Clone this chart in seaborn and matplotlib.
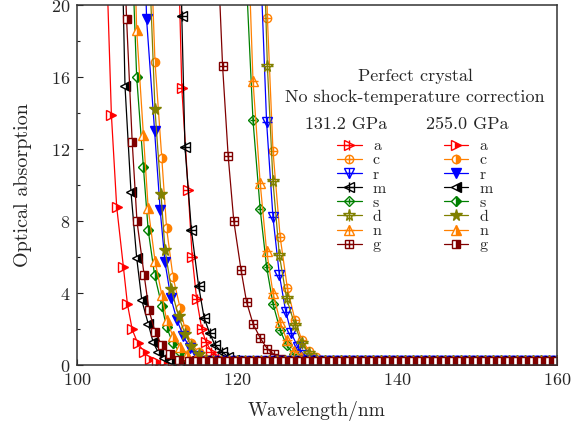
import matplotlib
matplotlib.use("Agg")
import matplotlib.pyplot as plt
from matplotlib.lines import Line2D
from matplotlib.legend_handler import HandlerTuple
from matplotlib.ticker import MultipleLocator
import seaborn as sns

# series keys, in legend order
keys = ["a", "c", "r", "m", "s", "d", "n", "g"]
colors = ["#ff0000", "#ff8000", "#0000ff", "#000000", "#008000", "#808000", "#ff8000", "#800000"]
markers = [">", "o", "v", "<", "D", "*", "^", "s"]

# 131.2 GPa (wavelength in nm, optical absorption)
wl_131 = {
    "a": [112.5, 113.1, 113.9, 114.4, 114.96, 115.6, 116.1, 116.8, 117.6, 118.4],
    "c": [123.5, 123.8, 124.5, 125.4, 126.3, 127.25, 128.1, 129.0, 129.9, 130.8],
    "r": [122.8, 123.7, 124.5, 125.3, 126.1, 126.8, 127.6, 128.4, 129.2],
    "m": [112.9, 113.1, 113.5, 114.3, 115.2, 115.9, 116.6, 117.25, 118.1, 118.9, 119.6],
    "s": [120.9, 122.0, 122.9, 123.7, 124.5, 125.4, 126.2, 127.1, 128.0],
    "d": [123.3, 123.8, 124.5, 125.3, 126.2, 127.25, 128.1, 129.0, 129.9],
    "n": [121.2, 122.0, 122.9, 123.7, 124.5, 125.4, 126.2, 127.1, 128.0, 128.9],
    "g": [117.3, 118.2, 118.9, 119.6, 120.5, 121.2, 122.0, 122.9, 123.8, 124.6, 125.5, 126.4],
}
ab_131 = {
    "a": [26, 15.4, 9.7, 6.0, 3.65, 2.0, 1.3, 0.75, 0.4, 0.2],
    "c": [25, 19.3, 11.9, 7.1, 4.26, 2.5, 1.4, 0.8, 0.45, 0.25],
    "r": [24, 13.5, 8.2, 5.0, 2.96, 1.76, 1.0, 0.55, 0.3],
    "m": [26, 19.4, 12.1, 7.5, 4.4, 2.6, 1.76, 1.1, 0.74, 0.46, 0.3],
    "s": [24, 13.6, 8.65, 5.46, 3.4, 1.94, 1.1, 0.6, 0.3],
    "d": [24, 16.6, 10.2, 6.1, 3.7, 2.2, 1.2, 0.65, 0.35],
    "n": [26, 15.8, 10.1, 6.35, 4.0, 2.4, 1.4, 0.8, 0.45, 0.25],
    "g": [26, 16.6, 11.6, 8.0, 5.3, 3.5, 2.3, 1.5, 0.9, 0.6, 0.35, 0.2],
}

# 255.0 GPa
wl_255 = {
    "a": [103.3, 104.3, 104.96, 105.8, 106.3, 106.9, 107.6, 108.4, 109.1, 110.0],
    "c": [109.0, 109.75, 110.6, 111.2, 112.0, 112.9, 113.5, 114.3, 115.2, 116.1],
    "r": [108.3, 108.7, 109.7, 110.4, 111.0, 111.75, 112.5, 113.3, 114.1, 115.0],
    "m": [105.4, 106.0, 106.75, 107.46, 108.1, 108.9, 109.5, 110.1, 110.9, 111.8],
    "s": [106.8, 107.46, 108.3, 108.9, 109.7, 110.6, 111.2, 112.0, 112.9, 113.8],
    "d": [108.9, 109.75, 110.5, 111.0, 111.8, 112.7, 113.5, 114.3, 115.2, 116.1],
    "n": [107.0, 107.46, 108.3, 108.9, 109.75, 110.6, 111.2, 112.0, 112.9, 113.8, 114.7],
    "g": [105.5, 106.2, 106.9, 107.5, 108.4, 109.0, 109.75, 110.6, 111.6, 112.7],
}
ab_255 = {
    "a": [28, 13.9, 8.8, 5.45, 3.4, 1.98, 1.2, 0.74, 0.35, 0.15],
    "c": [26, 16.85, 11.5, 7.6, 4.9, 3.15, 2.0, 1.2, 0.7, 0.35],
    "r": [26, 19.2, 13.0, 8.6, 5.7, 3.7, 2.5, 1.6, 0.95, 0.5],
    "m": [28, 15.5, 9.6, 5.96, 3.6, 2.3, 1.3, 0.74, 0.4, 0.2],
    "s": [24, 16.0, 11.0, 7.5, 5.0, 3.3, 2.1, 1.2, 0.7, 0.35],
    "d": [24, 14.2, 9.5, 6.4, 4.2, 2.7, 1.75, 1.05, 0.6, 0.3],
    "n": [26, 18.6, 12.8, 8.7, 5.8, 3.9, 2.5, 1.6, 1.0, 0.55, 0.3],
    "g": [28, 19.2, 12.4, 7.98, 4.98, 3.05, 1.85, 1.1, 0.6, 0.28],
}

# flat tail near zero, shared by all curves
tail_wl = [106, 107, 108, 109, 110, 111, 112, 113, 114, 115, 116, 117, 118, 119,
           120, 121, 122, 123, 124, 125, 126, 127, 128, 129, 130, 131, 132, 133,
           134, 135, 136, 137, 138, 139, 140, 141, 142, 143, 144, 145, 146, 147,
           148, 149, 150, 151, 152, 153, 154, 155, 156, 157, 158, 159, 160]
tail_ab = [0.2, 0.2, 0.2, 0.2, 0.2, 0.2, 0.2, 0.2, 0.2, 0.2, 0.2, 0.2, 0.2, 0.2,
           0.2, 0.2, 0.2, 0.2, 0.2, 0.2, 0.2, 0.2, 0.2, 0.2, 0.2, 0.2, 0.2, 0.2,
           0.2, 0.2, 0.2, 0.2, 0.2, 0.2, 0.2, 0.2, 0.2, 0.2, 0.2, 0.2, 0.2, 0.2,
           0.2, 0.2, 0.2, 0.2, 0.2, 0.2, 0.2, 0.2, 0.2, 0.2, 0.2, 0.2, 0.2]

sns.set_theme(style="ticks")
plt.rcParams["font.family"] = "cmr10"
plt.rcParams["mathtext.fontset"] = "cm"
plt.rcParams["axes.formatter.use_mathtext"] = True
plt.rcParams["font.size"] = 13

fig, ax = plt.subplots(figsize=(5.82, 4.23), dpi=100)
fig.subplots_adjust(left=0.1323, right=0.957, bottom=0.137, top=0.988)


def with_tail(xs, ys):
    x = list(xs)
    y = list(ys)
    for t, v in zip(tail_wl, tail_ab):
        if t > xs[-1] + 0.6:
            x.append(t)
            y.append(v)
    return x, y


ms = {">": 6.5, "o": 6, "v": 6.5, "<": 6.5, "D": 5, "*": 8.5, "^": 6.5, "s": 5.5}

# 131.2 GPa: open markers with a cross inside
h131 = []
for k, c, m in zip(keys, colors, markers):
    x, y = with_tail(wl_131[k], ab_131[k])
    sns.lineplot(x=x, y=y, ax=ax, sort=False, color=c, lw=0.9, marker=m,
                 markersize=ms[m], markerfacecolor="none", markeredgecolor=c,
                 markeredgewidth=1.0)
    sns.lineplot(x=x, y=y, ax=ax, sort=False, color=c, linestyle="none", marker="+",
                 markersize=ms[m], markeredgecolor=c, markeredgewidth=1.0)
    h131.append((Line2D([], [], color=c, lw=0.9, marker=m, markersize=ms[m],
                        markerfacecolor="none", markeredgecolor=c, markeredgewidth=1.0),
                 Line2D([], [], color=c, ls="none", marker="+", markersize=ms[m],
                        markeredgecolor=c, markeredgewidth=1.0)))

# 255.0 GPa: half-filled markers
h255 = []
for k, c, m in zip(keys, colors, markers):
    x, y = with_tail(wl_255[k], ab_255[k])
    fs = "full" if k in ("r", "d") else "right"
    style = dict(color=c, lw=0.9, marker=m, markersize=ms[m], fillstyle=fs,
                 markerfacecolor=c, markerfacecoloralt="white",
                 markeredgecolor=c, markeredgewidth=1.0)
    sns.lineplot(x=x, y=y, ax=ax, sort=False, **style)
    h255.append(Line2D([], [], **style))

ax.set_xlim(100, 160)
ax.set_ylim(0, 20)
ax.xaxis.set_major_locator(MultipleLocator(20))
ax.xaxis.set_minor_locator(MultipleLocator(10))
ax.yaxis.set_major_locator(MultipleLocator(4))
ax.yaxis.set_minor_locator(MultipleLocator(2))
ax.tick_params(which="both", direction="in", labelsize=13, width=0.8, color="#222222")
ax.tick_params(which="major", length=4, pad=5)
ax.tick_params(which="minor", length=2.5)
for sp in ax.spines.values():
    sp.set_visible(True)
    sp.set_linewidth(1.1)
    sp.set_color("#333333")
ax.set_xlabel("Wavelength/nm", fontsize=14)
ax.set_ylabel("Optical absorption", fontsize=14.5)
ax.xaxis.set_label_coords(0.5, -0.1)
ax.yaxis.set_label_coords(-0.094, 0.5)

fig.text(415 / 582, 1 - 76 / 423, "Perfect crystal", ha="center", va="center", fontsize=13)
fig.text(415 / 582, 1 - 97 / 423, "No shock-temperature correction", ha="center", va="center", fontsize=13)
fig.text(346 / 582, 1 - 124 / 423, "131.2 GPa", ha="center", va="center", fontsize=13)
fig.text(467 / 582, 1 - 124 / 423, "255.0 GPa", ha="center", va="center", fontsize=13)

leg = ax.legend(h131 + h255, keys + keys, ncol=2, loc="upper left",
                bbox_to_anchor=(337 / 582, 1 - 139 / 423), bbox_transform=fig.transFigure,
                frameon=False, fontsize=11.5, handlelength=1.55, handletextpad=0.7,
                labelspacing=0.0, columnspacing=3.6, borderpad=0, borderaxespad=0,
                handler_map={tuple: HandlerTuple(ndivide=1)})

fig.savefig("out.png", dpi=100)
